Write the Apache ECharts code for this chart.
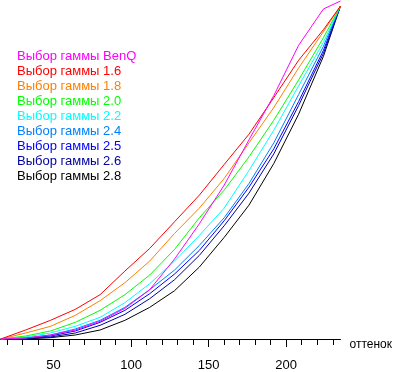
<!DOCTYPE html>
<html>
<head>
<meta charset="utf-8">
<script src="https://cdn.jsdelivr.net/npm/echarts@6/dist/echarts.min.js"></script>
<style>html,body{margin:0;padding:0;background:#fff}#c{width:395px;height:372px}</style>
</head>
<body>
<div id="c"></div>
<script>
const shades = [16, 32, 48, 64, 80, 96, 112, 128, 144, 160, 176, 192, 208, 224, 235];
const benq   = [0, 0.3, 1.2, 2.7, 5.3, 9.2, 14.8, 24.0, 34.6, 46.2, 59.8, 73.1, 88.2, 99.1, 101.5];
const g16    = [0, 2.7, 5.6, 8.9, 13.3, 20.4, 27.2, 35.2, 43.2, 52.4, 61.5, 72.5, 83.7, 92.9, 100];
const g18    = [0, 1.8, 3.8, 7.1, 11.5, 16.9, 23.4, 31.7, 39.3, 48.2, 58.9, 69.5, 81.4, 92.3, 100];
const g20    = [0, 0.9, 2.4, 5.0, 8.6, 13.3, 19.2, 26.9, 36.4, 44.7, 54.7, 65.7, 77.8, 90.5, 100];
const g22    = [0, 0.6, 1.8, 3.8, 6.5, 10.9, 16.6, 23.4, 31.1, 39.3, 50.6, 62.7, 76.0, 89.1, 100];
const g24    = [0, 0.3, 1.2, 3.0, 5.6, 9.5, 14.8, 20.7, 28.1, 36.4, 46.7, 58.9, 73.4, 87.9, 100];
const g25    = [0, 0.3, 0.9, 2.4, 5.0, 8.6, 13.6, 19.5, 26.6, 35.5, 45.6, 57.1, 71.3, 86.7, 100];
const g26    = [0, 0.15, 0.6, 1.8, 4.1, 7.4, 12.1, 17.8, 25.1, 34.0, 43.8, 55.6, 70.1, 85.8, 100];
const g28    = [0, 0, 0.4, 1.2, 2.7, 5.6, 9.5, 14.5, 21.6, 30.5, 40.2, 52.7, 67.5, 84.9, 100];

const seriesNames = ['Выбор гаммы BenQ','Выбор гаммы 1.6','Выбор гаммы 1.8','Выбор гаммы 2.0','Выбор гаммы 2.2','Выбор гаммы 2.4','Выбор гаммы 2.5','Выбор гаммы 2.6','Выбор гаммы 2.8'];
const seriesData = [benq, g16, g18, g20, g22, g24, g25, g26, g28];
const colors = ['#ff00ff','#ff0000','#ff8000','#00ff00','#00ffff','#0080ff','#0000ff','#0000a0','#000000'];

const majorTicks = [50, 100, 150, 200];
const minorTicks = [20, 30, 40, 60, 70, 80, 90, 110, 120, 130, 140, 160, 170, 180, 190, 210, 220, 230];
const axisName = 'оттенок';

const FONT = '"Liberation Sans", Arial, sans-serif';
const chart = echarts.init(document.getElementById('c'), null, {renderer: 'canvas'});
chart.setOption({
  animation: false,
  backgroundColor: '#ffffff',
  grid: {left: 0, right: 51, top: 6, bottom: 27, containLabel: false},
  legend: {
    orient: 'vertical', left: 12, top: 49, padding: 0,
    icon: 'none', itemWidth: 0, itemHeight: 14, itemGap: 1.5,
    selectedMode: false,
    data: seriesNames.map((n, i) => ({name: n, textStyle: {color: colors[i]}})),
    textStyle: {fontFamily: FONT, fontSize: 13}
  },
  xAxis: [{
    type: 'value', min: 15.5, max: 235,
    axisLine: {show: true, lineStyle: {color: '#000', width: 1}},
    axisTick: {show: true, customValues: minorTicks, length: 6, lineStyle: {color: '#000'}},
    axisLabel: {show: false},
    splitLine: {show: false},
    name: axisName, nameLocation: 'end', nameGap: 9,
    nameTextStyle: {fontFamily: FONT, fontSize: 12, color: '#000', verticalAlign: 'top', lineHeight: 12}
  }, {
    type: 'value', min: 15.5, max: 235, position: 'bottom',
    axisLine: {show: false},
    axisTick: {show: true, customValues: majorTicks, length: 8, lineStyle: {color: '#000'}},
    axisLabel: {show: true, customValues: majorTicks, margin: 20, fontFamily: FONT, fontSize: 13, color: '#000'},
    splitLine: {show: false}
  }],
  yAxis: {type: 'value', min: 0, max: 100, show: false},
  series: seriesNames.map((n, i) => ({
    name: n, type: 'line', xAxisIndex: 0,
    data: shades.map((x, j) => [x, seriesData[i][j]]),
    showSymbol: false, symbol: 'none', clip: false,
    lineStyle: {color: colors[i], width: 1},
    itemStyle: {color: colors[i]},
    z: 2 + (8 - i)
  }))
});
</script>
</body>
</html>
